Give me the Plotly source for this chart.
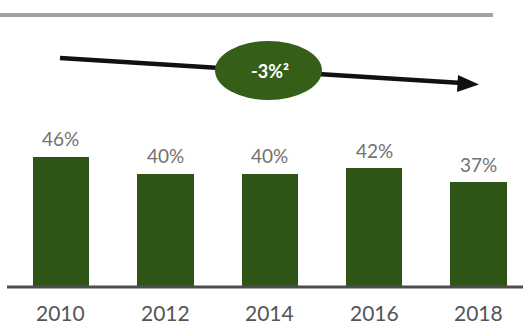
import plotly.graph_objects as go

# Survey share by year
years = ["2010", "2012", "2014", "2016", "2018"]
shares = [46, 40, 40, 42, 37]
bar_labels = ["46%", "40%", "40%", "42%", "37%"]
trend_label = "-3%²"

W, H = 523, 326
BAR_GREEN = "#2e5515"
BADGE_GREEN = "#355f18"

fig = go.Figure()

positions = list(range(len(years)))
fig.add_trace(go.Bar(
    x=positions,
    y=shares,
    width=0.54,
    marker=dict(color=BAR_GREEN, line=dict(width=0)),
    hoverinfo="skip",
    showlegend=False,
))

annotations = []
# value labels above bars
for i, (v, lab) in enumerate(zip(shares, bar_labels)):
    annotations.append(dict(
        x=i, y=v, xref="x", yref="y", text=lab, showarrow=False,
        yanchor="middle", yshift=18,
        font=dict(family="Lato", size=19, color="#727272"),
    ))
# year labels under the baseline
for i, yr in enumerate(years):
    annotations.append(dict(
        x=i, y=0, xref="x", yref="y", text=yr, showarrow=False,
        yanchor="top", yshift=-11,
        font=dict(family="Lato", size=21, color="#555555"),
    ))


def px(x):
    return x / W


def py(y):
    return 1 - y / H


shapes = [
    # header rule
    dict(type="line", xref="paper", yref="paper",
         x0=0, x1=px(493), y0=py(15), y1=py(15),
         line=dict(color="#a3a3a3", width=4)),
    # baseline
    dict(type="line", xref="paper", yref="y",
         x0=px(7), x1=1, y0=0, y1=0,
         line=dict(color="#4d4d4d", width=3)),
    # trend arrow shaft
    dict(type="line", xref="paper", yref="paper",
         x0=px(60), y0=py(58), x1=px(462), y1=py(83),
         line=dict(color="#111111", width=4.5)),
    # trend arrow head
    dict(type="path", xref="paper", yref="paper",
         path=f"M {px(479)},{py(84.5)} L {px(458)},{py(75)} L {px(457)},{py(92)} Z",
         fillcolor="#111111", line=dict(width=0)),
    # trend badge
    dict(type="circle", xref="paper", yref="paper",
         x0=px(215), x1=px(322), y0=py(100), y1=py(41),
         fillcolor=BADGE_GREEN, line=dict(width=0)),
]

annotations.append(dict(
    x=px(270), y=py(71), xref="paper", yref="paper",
    text=f"<b>{trend_label}</b>", showarrow=False,
    xanchor="center", yanchor="middle",
    font=dict(family="Lato", size=18, color="#ffffff"),
))

fig.update_layout(
    width=W, height=H,
    margin=dict(l=0, r=0, t=0, b=0),
    paper_bgcolor="white", plot_bgcolor="white",
    xaxis=dict(range=[-0.584, 4.426], visible=False, fixedrange=True),
    yaxis=dict(range=[-13.78, 101.4], visible=False, fixedrange=True),
    shapes=shapes,
    annotations=annotations,
    bargap=0,
)

fig.write_html("out.html", config={"displayModeBar": False})
